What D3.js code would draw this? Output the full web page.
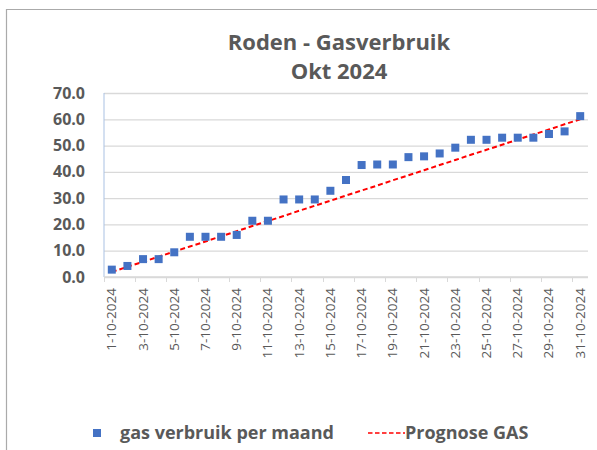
<!DOCTYPE html>
<html>
  <body style="margin:0">
    <style>
      body { background: #fff; }
      text { font-family: 'Open Sans', sans-serif; }
    </style>
    <script src="https://d3js.org/d3.v7.min.js"></script>
    <script type="text/javascript">
      const maxWidth = 597;
      const maxHeight = 450;
      const margin = { top: 93, right: 9, bottom: 173, left: 104 };

      const days = d3.range(1, 32).map((d) => `${d}-10-2024`);
      const verbruik = [
        2.8, 4.2, 6.8, 6.8, 9.4, 15.3, 15.3, 15.3, 16.0, 21.4,
        21.4, 29.5, 29.5, 29.5, 32.8, 36.9, 42.6, 42.8, 42.8, 45.6,
        45.9, 47.0, 49.2, 52.2, 52.2, 53.0, 53.0, 53.0, 54.4, 55.4,
        61.2,
      ];
      const prognose = [
        1.9, 3.9, 5.8, 7.7, 9.7, 11.6, 13.5, 15.5, 17.4, 19.4,
        21.3, 23.2, 25.2, 27.1, 29.0, 31.0, 32.9, 34.8, 36.8, 38.7,
        40.6, 42.6, 44.5, 46.5, 48.4, 50.3, 52.3, 54.2, 56.1, 58.1,
        60.0,
      ];
      const yTicks = [0, 10, 20, 30, 40, 50, 60, 70];
      const titleLines = ['Roden - Gasverbruik', 'Okt 2024'];
      const legendLabels = ['gas verbruik per maand', 'Prognose GAS'];

      const innerW = maxWidth - margin.left - margin.right;
      const innerH = maxHeight - margin.top - margin.bottom;

      const scaleX = d3.scaleBand().domain(days).range([0, innerW]);
      const scaleY = d3.scaleLinear().domain([0, 70]).range([innerH, 0]);

      const svg = d3.select('body')
        .append('svg')
        .attr('width', maxWidth)
        .attr('height', maxHeight);

      // chart border (bottom edge is outside the picture)
      svg.append('path')
        .attr('d', `M6.5,${maxHeight + 5}V9.5H${maxWidth + 5}`)
        .attr('fill', 'none')
        .attr('stroke', '#aaaaaa')
        .attr('stroke-width', 1.2);

      svg.selectAll('.title')
        .data(titleLines)
        .enter()
        .append('text')
        .attr('x', 339)
        .attr('y', (d, i) => 50 + i * 29)
        .attr('text-anchor', 'middle')
        .attr('font-size', 22)
        .attr('font-weight', 'bold')
        .attr('fill', '#595959')
        .text((d) => d);

      const g = svg.append('g')
        .attr('transform', `translate(${margin.left}, ${margin.top})`);

      // grid + y labels
      const axisLeft = d3.axisLeft(scaleY)
        .tickValues(yTicks)
        .tickSize(-innerW)
        .tickPadding(19)
        .tickFormat(d3.format('.1f'));
      g.append('g')
        .call(axisLeft)
        .call((a) => a.select('.domain').remove())
        .call((a) => a.selectAll('.tick line').attr('stroke', '#d9d9d9').attr('stroke-width', 1.3))
        .call((a) => a.selectAll('.tick text')
          .attr('font-family', "'Open Sans', sans-serif")
          .attr('font-size', 16)
          .attr('font-weight', 'bold')
          .attr('fill', '#595959'));

      g.append('line')
        .attr('x1', 0).attr('x2', 0)
        .attr('y1', 0).attr('y2', innerH)
        .attr('stroke', '#a9c1e3')
        .attr('stroke-width', 1);

      // x axis: ticks every 2 days on band edges, labels on odd days
      const xa = g.append('g').attr('transform', `translate(0, ${innerH})`);
      xa.append('line')
        .attr('x1', 0).attr('x2', innerW)
        .attr('stroke', '#d9d9d9').attr('stroke-width', 1.3);
      const labelDays = days.filter((d, i) => i % 2 === 0);
      xa.selectAll('.xt')
        .data(labelDays)
        .enter()
        .append('line')
        .attr('x1', (d) => Math.round(scaleX(d)) + 0.5)
        .attr('x2', (d) => Math.round(scaleX(d)) + 0.5)
        .attr('y1', 0).attr('y2', 5)
        .attr('stroke', '#d9d9d9');
      xa.selectAll('.xl')
        .data(labelDays)
        .enter()
        .append('text')
        .attr('transform', (d) => `translate(${scaleX(d) + scaleX.bandwidth() / 2 + 4.5}, 11) rotate(-90)`)
        .attr('text-anchor', 'end')
        .attr('font-size', 13.5)
        .attr('fill', '#595959')
        .text((d) => d);

      // prognose line
      const line = d3.line()
        .x((d, i) => scaleX(days[i]) + scaleX.bandwidth() / 2)
        .y((d) => scaleY(d));
      g.append('path')
        .datum(prognose)
        .attr('d', line)
        .attr('fill', 'none')
        .attr('stroke', '#ff0000')
        .attr('stroke-width', 2)
        .attr('stroke-dasharray', '5,3');

      // markers
      const ms = 8;
      g.selectAll('.pt')
        .data(verbruik)
        .enter()
        .append('rect')
        .attr('x', (d, i) => scaleX(days[i]) + scaleX.bandwidth() / 2 - ms / 2)
        .attr('y', (d) => scaleY(d) - ms / 2)
        .attr('width', ms)
        .attr('height', ms)
        .attr('fill', '#4472c4');

      // legend
      const lg = svg.append('g').attr('transform', 'translate(0, 433)');
      lg.append('rect')
        .attr('x', 93).attr('y', -4)
        .attr('width', 8).attr('height', 8)
        .attr('fill', '#4472c4');
      lg.append('text')
        .attr('x', 120).attr('y', 6)
        .attr('font-size', 18)
        .attr('font-weight', 'bold')
        .attr('fill', '#595959')
        .text(legendLabels[0]);
      lg.append('line')
        .attr('x1', 368).attr('x2', 405)
        .attr('y1', 0).attr('y2', 0)
        .attr('stroke', '#ff0000')
        .attr('stroke-width', 1.5)
        .attr('stroke-dasharray', '4.5,2.5');
      lg.append('text')
        .attr('x', 405).attr('y', 6)
        .attr('font-size', 18)
        .attr('font-weight', 'bold')
        .attr('fill', '#595959')
        .text(legendLabels[1]);
    </script>
  </body>
</html>
